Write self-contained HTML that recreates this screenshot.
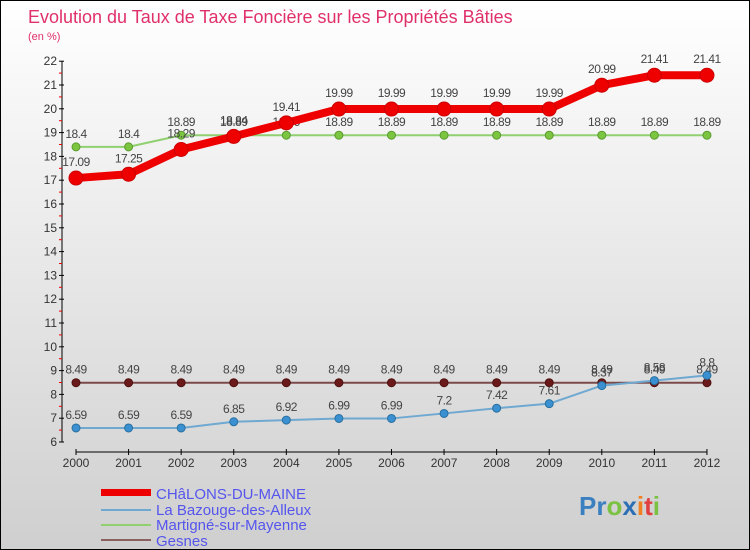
<!DOCTYPE html>
<html><head><meta charset="utf-8"><style>
body{margin:0}
#c{width:750px;height:550px;position:relative;overflow:hidden;background:linear-gradient(#ffffff,#cfcfcf);border:1px solid #000;box-sizing:border-box;font-family:"Liberation Sans",sans-serif}
svg text{font-family:"Liberation Sans",sans-serif}
</style></head><body>
<div id="c">
<svg id="s" width="750" height="550">
<text x="27" y="22" font-size="18" fill="#e0306a">Evolution du Taux de Taxe Foncière sur les Propriétés Bâties</text>
<text x="27" y="39" font-size="11" fill="#e0306a">(en %)</text>
<g id="axes"></g><g id="series"></g>
<g>
<rect x="100" y="488" width="50" height="7" fill="#e00"/>
<text x="155" y="498" font-size="15" fill="#5555ee">CHâLONS-DU-MAINE</text>
<rect x="100" y="508" width="50" height="2" fill="#6fa8d0"/>
<text x="155" y="514" font-size="15" fill="#5555ee">La Bazouge-des-Alleux</text>
<rect x="100" y="523" width="50" height="2" fill="#90d070"/>
<text x="155" y="529" font-size="15" fill="#5555ee">Martigné-sur-Mayenne</text>
<rect x="100" y="538" width="50" height="2" fill="#8a6060"/>
<text x="155" y="545" font-size="15" fill="#5555ee">Gesnes</text>
</g>
<text x="578" y="514" font-size="26" font-weight="bold"><tspan fill="#3a7fc0">Pr</tspan><tspan fill="#7bc142">o</tspan><tspan fill="#2d6fb5">x</tspan><tspan fill="#f08020">i</tspan><tspan fill="#e04040">t</tspan><tspan fill="#7bc142">i</tspan></text>
</svg></div>
<script>
const years=[2000,2001,2002,2003,2004,2005,2006,2007,2008,2009,2010,2011,2012];
const chalons=[17.09,17.25,18.29,18.84,19.41,19.99,19.99,19.99,19.99,19.99,20.99,21.41,21.41];
const bazouge=[6.59,6.59,6.59,6.85,6.92,6.99,6.99,7.2,7.42,7.61,8.37,8.58,8.8];
const martigne=[18.4,18.4,18.89,18.89,18.89,18.89,18.89,18.89,18.89,18.89,18.89,18.89,18.89];
const gesnes=[8.49,8.49,8.49,8.49,8.49,8.49,8.49,8.49,8.49,8.49,8.49,8.49,8.49];
const yTicks=[6,7,8,9,10,11,12,13,14,15,16,17,18,19,20,21,22];
const NS="http://www.w3.org/2000/svg";
const xS=i=>75+i*52.58;
const yS=v=>441-(v-6)*23.8;
function mk(t,a,p){const e=document.createElementNS(NS,t);for(const k in a)e.setAttribute(k,a[k]);p.appendChild(e);return e;}
const ax=document.getElementById('axes');
let e=mk('line',{x1:61,y1:yS(22),x2:61,y2:yS(6),stroke:'#000'},ax);


e=mk('line',{x1:75,y1:451,x2:706,y2:451,stroke:'#000'},ax);


yTicks.forEach(v=>{
  mk('line',{x1:58,y1:yS(v),x2:63,y2:yS(v),stroke:'#000'},ax);
  if(v<22) mk('line',{x1:58,y1:yS(v+0.5),x2:61,y2:yS(v+0.5),stroke:'#e00'},ax);
  const t=mk('text',{x:56,y:yS(v)+4,'font-size':12,fill:'#333','text-anchor':'end'},ax);
  t.textContent=v;
  
  
});
years.forEach((y,i)=>{
  mk('line',{x1:xS(i),y1:448,x2:xS(i),y2:454,stroke:'#000'},ax);
  const t=mk('text',{x:xS(i),y:466,'font-size':12,fill:'#333','text-anchor':'middle'},ax);
  t.textContent=y;
  
  
});
const sg=document.getElementById('series');
function series(name,vals,color,w,r,dot,stroke){
  const g=mk('g',{},sg);
  
  
  mk('polyline',{points:vals.map((v,i)=>xS(i)+','+yS(v)).join(' '),fill:'none',stroke:color,'stroke-width':w,'stroke-linejoin':'round'},g);
  vals.forEach((v,i)=>{
    const c=mk('circle',{cx:xS(i),cy:yS(v),r:r,fill:dot,stroke:stroke,'stroke-width':1},g);
    
    
    const t=mk('text',{x:xS(i),y:yS(v)-r-5,'font-size':12,fill:'#444','text-anchor':'middle','letter-spacing':'-0.5'},g);
    t.textContent=v;
    
    
  });
}
series('martigne',martigne,'#90d070',2,4,'#7cc540','#5a9a30');
series('gesnes',gesnes,'#7a4a4a',2,4,'#6a1a1a','#501010');
series('bazouge',bazouge,'#6fa8d0',2,4,'#3a90d0','#2a70a0');
series('chalons',chalons,'#e00',8,7,'#e00','#c00');
</script>
</body></html>
